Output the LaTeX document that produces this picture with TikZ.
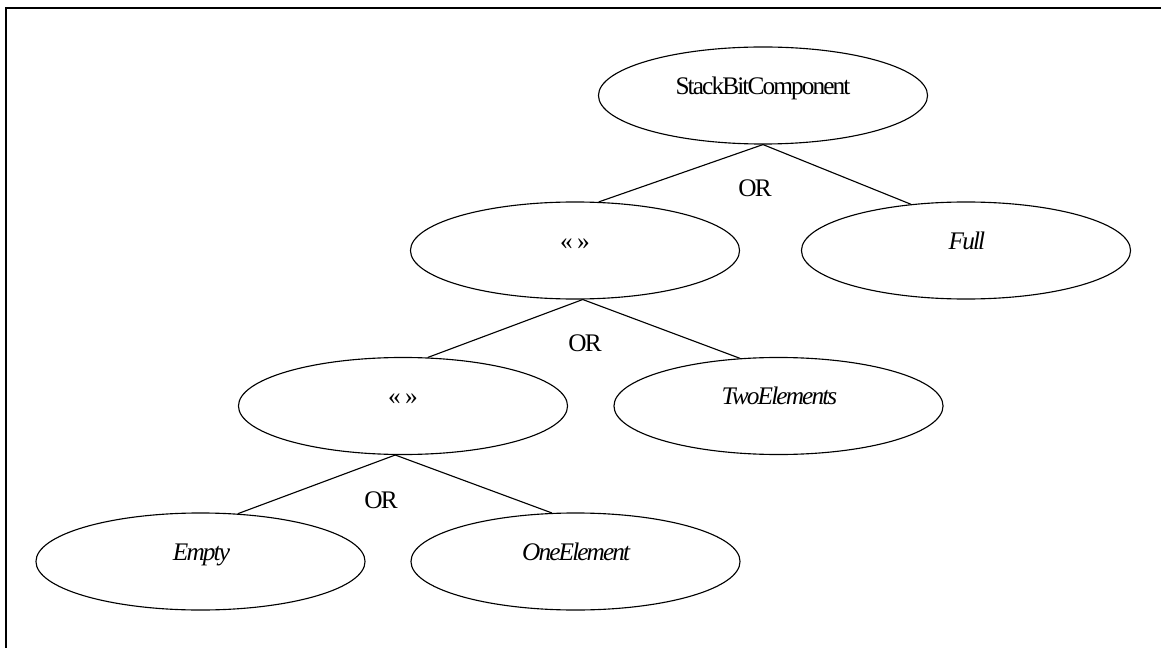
\documentclass[tikz,border=0pt]{standalone}
\usepackage{fontspec}
\setmainfont{Liberation Serif}[LetterSpace=-7.5]
\usetikzlibrary{shapes.geometric}
\begin{document}
\begin{tikzpicture}[x=0.025cm, y=-0.025cm,
        feature/.style={draw, ellipse, line width=0.8pt, minimum width=8.225cm, minimum height=2.425cm, inner sep=0pt, text height=0.4cm, text depth=0.455cm, font=\fontsize{18}{20}\selectfont},
        ortext/.style={inner sep=0pt, font=\fontsize{18}{20}\selectfont},
        link/.style={line width=0.8pt}]
        \useasboundingbox (0,0) rectangle (1161,648);
        \clip (0,0) rectangle (1161,648);

        % Rahmen
        \draw[line width=1.5pt] (6,700) -- (6,8) -- (1200,8);

        % Wurzel
        \node[feature] (root) at (763,95.5) {StackBitComponent};

        % Ebene 1
        \node[feature] (sel1) at (575,250.5) {« »};
        \node[feature] (full) at (966,250.5) {\textit{Full}};
        \node[ortext] (or1) at (755,188) {OR};

        % Ebene 2
        \node[feature] (sel2) at (403,406) {« »};
        \node[feature] (two) at (778.5,406) {\textit{TwoElements}};
        \node[ortext] (or2) at (585,343) {OR};

        % Ebene 3
        \node[feature] (empty) at (200.5,561.5) {\textit{Empty}};
        \node[feature] (one) at (575.5,561.5) {\textit{OneElement}};
        \node[ortext] (or3) at (381,500) {OR};

        % Kanten
        \draw[link] (root.south) -- (sel1.64);
        \draw[link] (root.south) -- (full.140);
        \draw[link] (sel1.-81) -- (sel2.63);
        \draw[link] (sel1.-81) -- (two.129);
        \draw[link] (sel2.-99) -- (empty.52);
        \draw[link] (sel2.-99) -- (one.116);
    \end{tikzpicture}
\end{document}
